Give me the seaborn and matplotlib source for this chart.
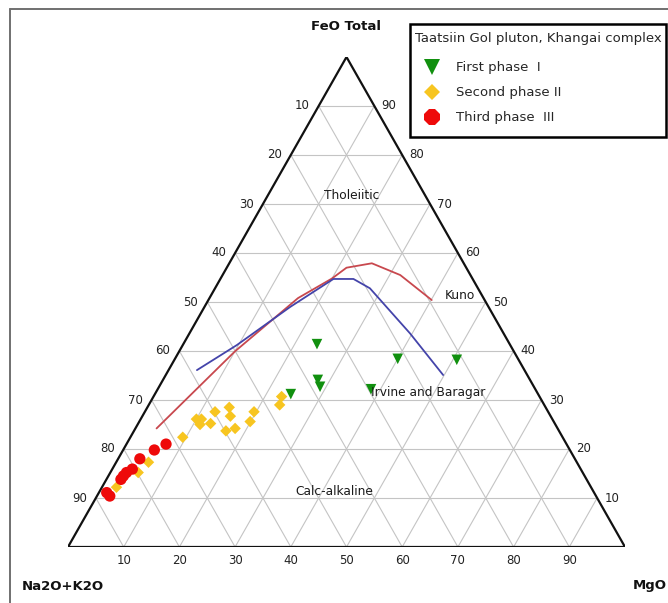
import numpy as np
import pandas as pd
import matplotlib
matplotlib.use("Agg")
import matplotlib.pyplot as plt
from matplotlib.lines import Line2D
from matplotlib.patches import Rectangle
import seaborn as sns

# Ternary compositions in percent: A = Na2O+K2O, F = FeO total, M = MgO
phase1_A = [34.6, 21.6, 11.1, 38.1, 38.4, 44.4, 29.5]
phase1_F = [41.4, 38.4, 38.2, 34.1, 32.7, 31.2, 32.2]
phase1_M = [24.0, 40.0, 50.7, 27.8, 28.9, 24.4, 38.3]

phase2_A = [46.3, 47.5, 52.8, 56.8, 57.5, 59.8, 63.0, 63.9, 63.8, 61.8, 54.5, 57.9, 59.8, 68.2, 76.9, 79.8, 85.2]
phase2_F = [30.7, 29.0, 27.6, 28.5, 26.7, 27.6, 26.1, 26.1, 25.0, 25.2, 25.6, 24.2, 23.7, 22.4, 17.3, 15.2, 12.2]
phase2_M = [23.0, 23.5, 19.6, 14.7, 15.8, 12.6, 10.9, 10.0, 11.2, 13.0, 19.9, 17.9, 16.5, 9.4, 5.8, 5.0, 2.6]

phase3_A = [71.9, 74.6, 78.1, 80.5, 81.9, 82.8, 83.6, 87.5, 87.3]
phase3_F = [21.0, 19.8, 18.0, 15.9, 15.2, 14.5, 13.8, 11.1, 10.4]
phase3_M = [7.1, 5.6, 3.9, 3.6, 2.9, 2.7, 2.6, 1.4, 2.3]

# Tholeiitic / calc-alkaline dividing lines
kuno_A = [72.0, 50.1, 33.3, 25.2, 21.5, 16.5, 12.6, 9.5]
kuno_F = [24.2, 39.9, 50.8, 54.8, 57.0, 57.9, 55.5, 50.4]
kuno_M = [3.8, 10.0, 15.9, 20.0, 21.5, 25.6, 31.9, 40.1]

irvine_A = [58.8, 49.1, 35.6, 25.0, 21.4, 19.4, 16.8, 15.1]
irvine_F = [36.1, 41.2, 49.0, 54.7, 54.7, 52.8, 43.6, 35.1]
irvine_M = [5.1, 9.7, 15.4, 20.3, 23.9, 27.8, 39.6, 49.8]

phase_names = ["First phase  I", "Second phase II", "Third phase  III"]
phase_colors = ["#11900f", "#f7c520", "#ee0a0a"]
tick_values = [10, 20, 30, 40, 50, 60, 70, 80, 90]


def to_xy(A, F, M):
    A, F, M = (np.asarray(v, dtype=float) for v in (A, F, M))
    tot = A + F + M
    F = F / tot * 100
    M = M / tot * 100
    return M + F / 2.0, F


sns.set_style("white")
plt.rcParams["font.family"] = ["DejaVu Sans"]

W, H = 668, 603
fig = plt.figure(figsize=(W / 100, H / 100), dpi=100)
ax = fig.add_axes([68 / W, 56 / H, 557 / W, 490 / H])
ax.set_xlim(0, 100)
ax.set_ylim(0, 100)
ax.axis("off")

# grid lines parallel to each side
grid_kw = dict(color="#c4c4c4", lw=0.8, zorder=1)
for v in tick_values:
    x, y = to_xy([100 - v, 0], [v, v], [0, 100 - v])
    ax.plot(x, y, **grid_kw)
    x, y = to_xy([100 - v, 0], [0, 100 - v], [v, v])
    ax.plot(x, y, **grid_kw)
    x, y = to_xy([v, v], [0, 100 - v], [100 - v, 0])
    ax.plot(x, y, **grid_kw)

# triangle outline
tx, ty = to_xy([100, 0, 0, 100], [0, 100, 0, 0], [0, 0, 100, 0])
ax.plot(tx, ty, color="#111111", lw=1.6, zorder=3, solid_joinstyle="miter")

# tick labels
tick_kw = dict(fontsize=8.5, color="#222222", clip_on=False)
for v in tick_values:
    x, y = to_xy([v], [100 - v], [0])
    ax.text(x[0] - 1.6, y[0], str(v), ha="right", va="center", **tick_kw)
    x, y = to_xy([0], [v], [100 - v])
    ax.text(x[0] + 1.3, y[0], str(v), ha="left", va="center", **tick_kw)
    x, y = to_xy([100 - v], [0], [v])
    ax.text(x[0], y[0] - 2.8, str(v), ha="center", va="center", **tick_kw)

# dividing lines
lines = []
for name, A, F, M in [("Kuno", kuno_A, kuno_F, kuno_M),
                      ("Irvine and Baragar", irvine_A, irvine_F, irvine_M)]:
    x, y = to_xy(A, F, M)
    lines.append(pd.DataFrame({"x": x, "y": y, "line": name}))
lines = pd.concat(lines, ignore_index=True)
sns.lineplot(data=lines, x="x", y="y", hue="line", units="line", estimator=None,
             sort=False, palette={"Kuno": "#c8484e", "Irvine and Baragar": "#4444aa"},
             lw=1.3, legend=False, ax=ax, zorder=4)

# sample points
frames = []
for name, A, F, M in [(phase_names[0], phase1_A, phase1_F, phase1_M),
                      (phase_names[1], phase2_A, phase2_F, phase2_M),
                      (phase_names[2], phase3_A, phase3_F, phase3_M)]:
    x, y = to_xy(A, F, M)
    frames.append(pd.DataFrame({"x": x, "y": y, "phase": name}))
pts = pd.concat(frames, ignore_index=True)
palette = dict(zip(phase_names, phase_colors))
marker_map = dict(zip(phase_names, ["v", "D", "o"]))
size_map = dict(zip(phase_names, [58, 34, 66]))
for name in phase_names:
    sub = pts[pts["phase"] == name]
    sns.scatterplot(data=sub, x="x", y="y", color=palette[name], marker=marker_map[name],
                    s=size_map[name], edgecolor="none", linewidth=0, legend=False,
                    ax=ax, zorder=5)

# field and line labels
lab_kw = dict(fontsize=8.8, color="#1a1a1a", zorder=6)
ax.text(51.0, 71.8, "Tholeiitic", ha="center", va="center", **lab_kw)
ax.text(67.6, 51.4, "Kuno", ha="left", va="center", **lab_kw)
ax.text(54.4, 31.6, "Irvine and Baragar", ha="left", va="center", **lab_kw)
ax.text(47.9, 11.4, "Calc-alkaline", ha="center", va="center", **lab_kw)

# corner labels
fig.text(346 / W, 1 - 27 / H, "FeO Total", ha="center", va="center",
         fontsize=9.5, fontweight="bold", color="#111111")
fig.text(22 / W, 1 - 586 / H, "Na2O+K2O", ha="left", va="center",
         fontsize=9.5, fontweight="bold", color="#111111")
fig.text(667 / W, 1 - 586 / H, "MgO", ha="right", va="center",
         fontsize=9.5, fontweight="bold", color="#111111")

# outer frame (top and left)
frame_kw = dict(transform=fig.transFigure, color="#707070", lw=1.4)
fig.add_artist(Line2D([10 / W, 10 / W], [0, 1 - 9 / H], **frame_kw))
fig.add_artist(Line2D([10 / W, 1], [1 - 9 / H, 1 - 9 / H], **frame_kw))

# legend
handles = [
    Line2D([], [], ls="None", marker="v", color=phase_colors[0], markersize=12, markeredgewidth=0),
    Line2D([], [], ls="None", marker="D", color=phase_colors[1], markersize=8, markeredgewidth=0),
    Line2D([], [], ls="None", marker="8", color=phase_colors[2], markersize=13, markeredgewidth=0),
]
leg = fig.legend(handles, phase_names, title="Taatsiin Gol pluton, Khangai complex",
                 loc="upper left", bbox_to_anchor=(412 / W, 1 - 29 / H),
                 fontsize=9.5, title_fontsize=9.5, frameon=False,
                 borderpad=0.2, labelspacing=1.25, handletextpad=0.55, handlelength=2.6,
                 alignment="left", borderaxespad=0)
# tighter spacing between the entry rows than between title and first row
for col in leg._legend_handle_box.get_children():
    col.sep = 8.7
fig.add_artist(Rectangle((410 / W, 1 - 137 / H), 256 / W, 113 / H,
                         transform=fig.transFigure, facecolor="white",
                         edgecolor="#000000", lw=1.8, zorder=0.5))

fig.savefig("out.png", dpi=100)
